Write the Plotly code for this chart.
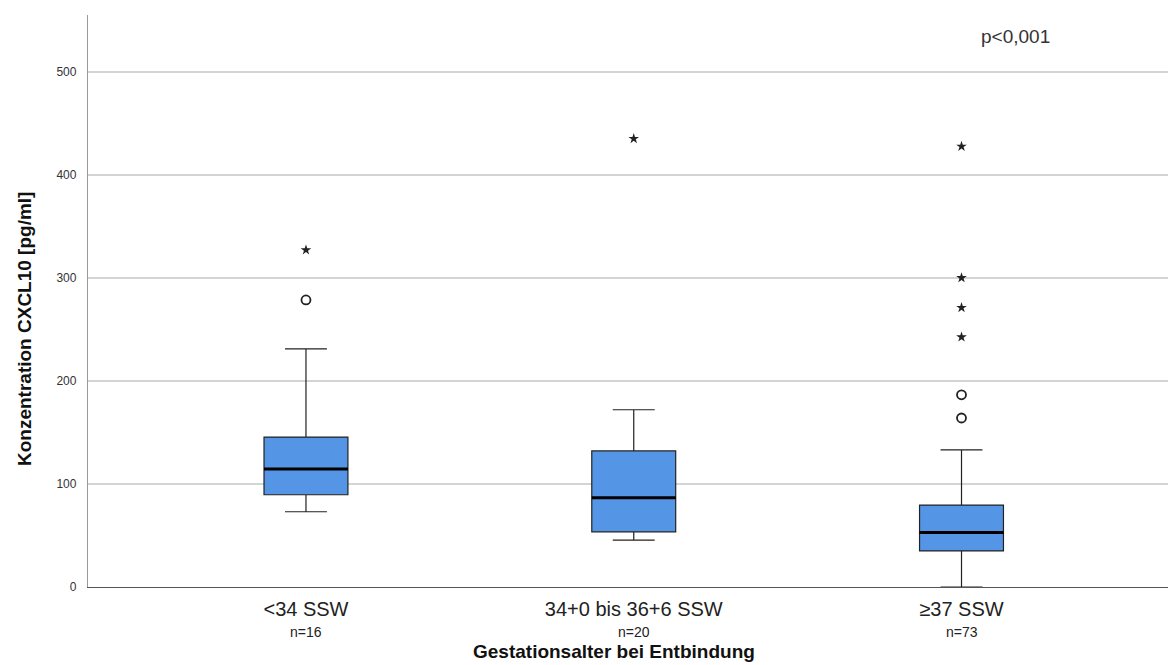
import plotly.graph_objects as go

categories = ["<34 SSW", "34+0 bis 36+6 SSW", "≥37 SSW"]
n_labels = ["n=16", "n=20", "n=73"]
lower_fence = [73, 45.5, 0]
q1 = [89.5, 53.5, 35]
median = [114.5, 86.5, 53]
q3 = [145.5, 132, 79.5]
upper_fence = [231, 172, 133]
# outliers: (category index, value)
circle_cat = [0, 2, 2]
circle_val = [278.5, 164, 186.5]
star_cat = [0, 1, 2, 2, 2, 2]
star_val = [327, 435, 242.5, 271, 300, 427.5]

xpos = list(range(len(categories)))
box_w = 0.256
box_color = "#5595E6"

# pixel helpers for layout (plot area: x 88..1168, y 15..587)
L, R, T, B = 88, 1168, 15, 587
def px_x(p):
    return (p - L) / (R - L)
def px_y(p):
    return (B - p) / (B - T)

fig = go.Figure()
fig.add_trace(go.Box(
    x=xpos, q1=q1, median=median, q3=q3,
    lowerfence=lower_fence, upperfence=upper_fence,
    width=box_w, whiskerwidth=0.5,
    fillcolor=box_color, line=dict(color="#222222", width=1.2),
    boxpoints=False, showlegend=False, hoverinfo="skip",
))
# thick median lines
mx, my = [], []
for i, m in zip(xpos, median):
    mx += [i - box_w / 2, i + box_w / 2, None]
    my += [m, m, None]
fig.add_trace(go.Scatter(x=mx, y=my, mode="lines",
                         line=dict(color="#000000", width=3),
                         showlegend=False, hoverinfo="skip"))
fig.add_trace(go.Scatter(x=circle_cat, y=circle_val, mode="markers",
                         marker=dict(symbol="circle-open", size=9, color="#222222",
                                     line=dict(color="#222222", width=1.8)),
                         showlegend=False))
fig.add_trace(go.Scatter(x=star_cat, y=star_val, mode="markers",
                         marker=dict(symbol="star", size=8, color="#222222"),
                         showlegend=False))

annotations = [
    dict(xref="paper", yref="paper", x=px_x(1015), y=px_y(37), text="p<0,001",
         showarrow=False, xanchor="center", yanchor="middle",
         font=dict(size=19, color="#333333")),
    dict(xref="paper", yref="paper", x=px_x(24), y=px_y(329),
         text="<b>Konzentration CXCL10 [pg/ml]</b>", textangle=-90,
         showarrow=False, xanchor="center", yanchor="middle",
         font=dict(size=19, color="#111111")),
    dict(xref="paper", yref="paper", x=px_x(614), y=px_y(651),
         text="<b>Gestationsalter bei Entbindung</b>",
         showarrow=False, xanchor="center", yanchor="middle",
         font=dict(size=19, color="#111111")),
]
for i, n in zip(xpos, n_labels):
    annotations.append(dict(xref="x", yref="paper", x=i, y=px_y(632), text=n,
                            showarrow=False, xanchor="center", yanchor="middle",
                            font=dict(size=14, color="#222222")))

fig.update_layout(
    width=1168, height=665,
    margin=dict(l=L, r=1168 - R, t=T, b=665 - B),
    paper_bgcolor="white", plot_bgcolor="white",
    font=dict(family="Liberation Sans, Arial, sans-serif", color="#222222"),
    xaxis=dict(
        range=[-0.665, 2.63], tickvals=xpos, ticktext=categories,
        tickfont=dict(size=20, color="#222222"),
        showgrid=False, zeroline=False, showline=True,
        linecolor="#555555", linewidth=1.3, ticks="", ticklabelstandoff=4,
    ),
    yaxis=dict(
        range=[0, 555], tickvals=[0, 100, 200, 300, 400, 500],
        tickfont=dict(size=12, color="#333333"),
        showgrid=True, gridcolor="#D4D4D4", gridwidth=1.5,
        zeroline=False, showline=True, linecolor="#999999", linewidth=1.3,
        ticks="", ticklabelstandoff=8,
    ),
    annotations=annotations,
)

fig.write_html("out.html")
